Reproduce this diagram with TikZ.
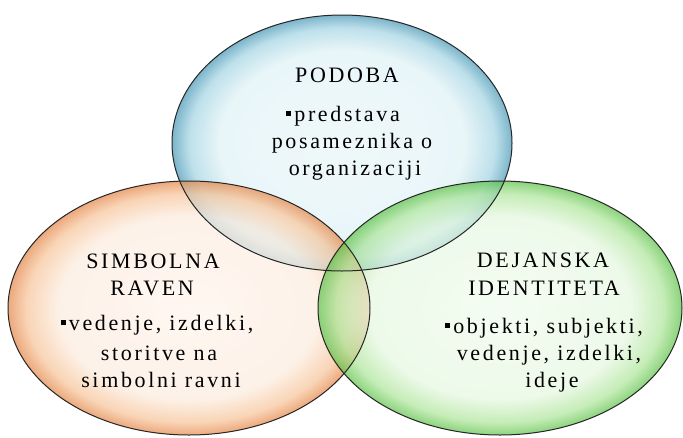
\documentclass[tikz,border=0pt]{standalone}
\usepackage{fontspec}
\setmainfont{Liberation Serif}
\newfontfamily\lblfont[LetterSpace=12]{Liberation Serif}
\newcommand\mybul{\rule[0.22em]{0.22em}{0.22em}\hspace{0.15em}}
\pgfdeclareradialshading{blueglass}{\pgfpoint{0bp}{0bp}}{rgb(0bp)=(0.93,0.97,0.98); rgb(18bp)=(0.90,0.96,0.97); rgb(22.5bp)=(0.70,0.86,0.91); rgb(25bp)=(0.40,0.66,0.76); rgb(50bp)=(0.40,0.66,0.76)}
\pgfdeclareradialshading{orangeglass}{\pgfpoint{0bp}{0bp}}{rgb(0bp)=(1.00,0.96,0.93); rgb(18bp)=(0.99,0.93,0.88); rgb(22.5bp)=(0.97,0.78,0.62); rgb(25bp)=(0.90,0.55,0.32); rgb(50bp)=(0.90,0.55,0.32)}
\pgfdeclareradialshading{greenglass}{\pgfpoint{0bp}{0bp}}{rgb(0bp)=(0.94,0.99,0.93); rgb(18bp)=(0.90,0.97,0.88); rgb(22.5bp)=(0.68,0.90,0.60); rgb(25bp)=(0.36,0.76,0.28); rgb(50bp)=(0.36,0.76,0.28)}
\tikzset{
  lbl/.style={font=\lblfont\fontsize{22}{26}\selectfont, text=black, anchor=base, inner sep=0pt},
  rim/.style={draw=black!85, line width=1pt}
}
\begin{document}
\begin{tikzpicture}[x=1pt,y=-1pt]
\useasboundingbox (0,0) rectangle (683,437);
\fill[white] (0,0) rectangle (683,437);
% shaded ellipses
\shade[shading=blueglass, fill opacity=0.85] (342,143) ellipse [x radius=170, y radius=128];
\shade[shading=orangeglass, fill opacity=0.75] (189,308) ellipse [x radius=181, y radius=127];
\shade[shading=greenglass, fill opacity=0.7] (500,308) ellipse [x radius=182, y radius=127];
% outlines
\draw[rim] (342,143) ellipse [x radius=170, y radius=128];
\draw[rim] (189,308) ellipse [x radius=181, y radius=127];
\draw[rim] (500,308) ellipse [x radius=182, y radius=127];
% top texts
\node[lbl] (t1) at (347,82) {PODOBA};
\node[lbl] (t2) at (343,121) {\mybul predstava};
\node[lbl] (t3) at (352,148) {posameznika o};
\node[lbl] (t4) at (355,175) {organizaciji};
% left texts
\node[lbl] (l1) at (153,268) {SIMBOLNA};
\node[lbl] (l2) at (152,295) {RAVEN};
\node[lbl] (l3) at (157,330) {\mybul vedenje, izdelki,};
\node[lbl] (l4) at (159,360) {storitve na};
\node[lbl] (l5) at (161,387) {simbolni ravni};
% right texts
\node[lbl] (r1) at (543,267) {DEJANSKA};
\node[lbl] (r2) at (544,295) {IDENTITETA};
\node[lbl] (r3) at (544,333) {\mybul objekti, subjekti,};
\node[lbl] (r4) at (549,360) {vedenje, izdelki,};
\node[lbl] (r5) at (552,387) {ideje};
\end{tikzpicture}
\end{document}
